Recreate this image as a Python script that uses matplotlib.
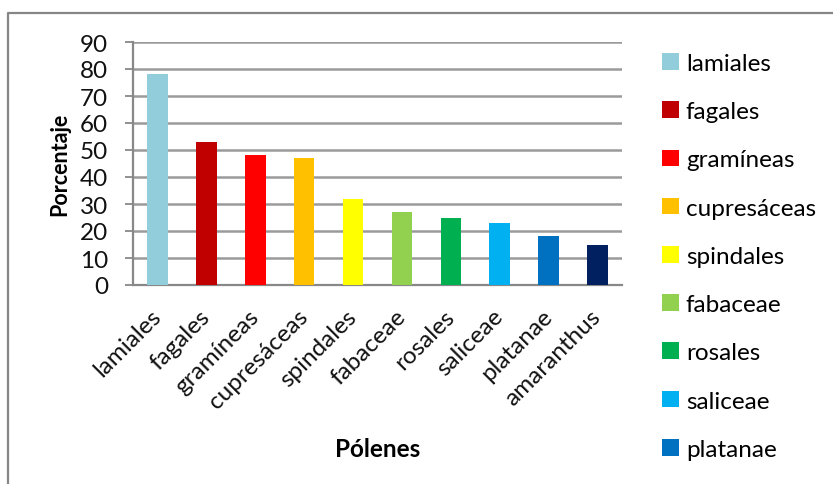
import matplotlib.pyplot as plt
from matplotlib.lines import Line2D

plt.rcParams['font.family'] = ['Lato', 'DejaVu Sans']

polenes = ['lamiales', 'fagales', 'gramíneas', 'cupresáceas', 'spindales',
           'fabaceae', 'rosales', 'saliceae', 'platanae', 'amaranthus']
porcentaje = [78, 53, 48, 47, 32, 27, 25, 23, 18, 15]
colores = ['#92CDDC', '#C00000', '#FF0000', '#FFC000', '#FFFF00',
           '#92D050', '#00B050', '#00B0F0', '#0070C0', '#002060']

W, H = 833, 485
fig = plt.figure(figsize=(W / 100, H / 100), dpi=100)
ax = fig.add_axes([133 / W, 1 - 286 / H, 489 / W, 243 / H])

x = range(len(polenes))
barras = ax.bar(x, porcentaje, width=0.42, color=colores, zorder=3)

ax.set_xlim(-0.5, len(polenes) - 0.5)
ax.set_ylim(0, 90)
ax.set_yticks(range(0, 91, 10))
ax.yaxis.grid(True, color='#9A9A9A', linewidth=1.8, zorder=0)
ax.set_xticks(list(x))
ax.set_xticklabels(polenes, rotation=45, ha='right', va='center',
                   rotation_mode='anchor')
ax.tick_params(axis='x', length=0, pad=20, labelsize=17.5, colors='#111111')
ax.tick_params(axis='y', length=6, width=1.3, color='#888888', pad=12,
               labelsize=17.5, colors='#111111')
for lado in ['top', 'right']:
    ax.spines[lado].set_visible(False)
for lado in ['left', 'bottom']:
    ax.spines[lado].set_color('#888888')
    ax.spines[lado].set_linewidth(1.6)

ax.set_xlabel('Pólenes', fontsize=17.5, fontweight='bold', labelpad=18)
ax.set_ylabel('Porcentaje', fontsize=15.5, fontweight='bold', labelpad=7)

# la leyenda llega hasta platanae; el recuadro se corta por debajo
fig.legend(barras[:9], polenes[:9], loc='upper left',
           bbox_to_anchor=(662 / W, 1 - 54 / H),
           frameon=False, fontsize=17.5, handlelength=0.68, handleheight=0.68,
           handletextpad=0.3, labelspacing=1.12, borderpad=0, borderaxespad=0)

# marco del gráfico (solo lados visibles)
fig.add_artist(Line2D([8 / W, 8 / W, 1], [0, 1 - 14 / H, 1 - 14 / H],
                      transform=fig.transFigure, color='#868686', linewidth=1.6))

fig.savefig('out.png', dpi=100)
